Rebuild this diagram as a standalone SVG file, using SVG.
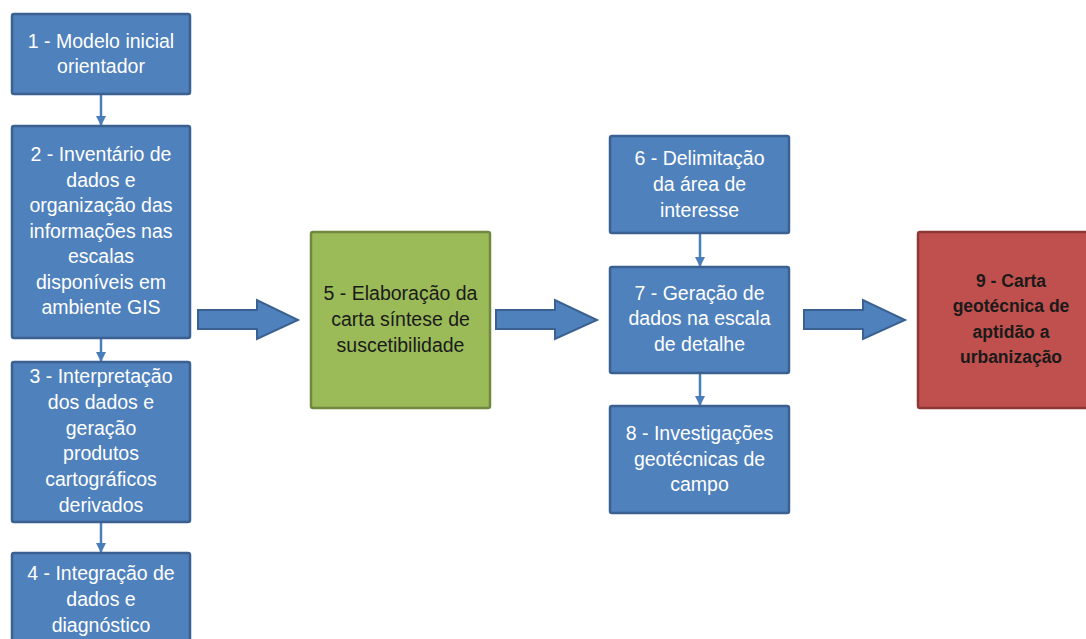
<svg xmlns="http://www.w3.org/2000/svg" width="1086" height="639" viewBox="0 0 1086 639">
<defs>
<style>
.b{fill:#4F81BD;stroke:#3A6191;stroke-width:2.5}
.g{fill:#9BBB59;stroke:#71893F;stroke-width:2.5}
.r{fill:#C0504D;stroke:#8C3836;stroke-width:2.5}
.t{font-family:"Liberation Sans",Arial,sans-serif;font-size:19.5px;text-anchor:middle}
.w{fill:#FFFFFF}
.d{fill:#1A1A1A}
.k{fill:#1A1A1A;font-weight:bold;font-size:17.5px}
.c{stroke:#4A7EBB;stroke-width:2.5;fill:none}
.ba{fill:#4F81BD;stroke:#3A6191;stroke-width:2}
</style>
<marker id="ah" viewBox="0 0 10 10" refX="9" refY="5" markerWidth="4" markerHeight="4" orient="auto" markerUnits="strokeWidth">
<path d="M0,0 L10,5 L0,10 Z" fill="#4A7EBB"/>
</marker>
</defs>
<rect width="1086" height="639" fill="#FFFFFF"/>
<g id="connectors">
<line class="c" x1="101" y1="94" x2="101" y2="125" marker-end="url(#ah)"/>
<line class="c" x1="101" y1="338" x2="101" y2="361" marker-end="url(#ah)"/>
<line class="c" x1="101" y1="522" x2="101" y2="552" marker-end="url(#ah)"/>
<line class="c" x1="700" y1="233" x2="700" y2="266" marker-end="url(#ah)"/>
<line class="c" x1="700" y1="373" x2="700" y2="405" marker-end="url(#ah)"/>
<path class="ba" d="M198,310 L257,310 L257,300 L298,320 L257,339 L257,329 L198,329 Z"/>
<path class="ba" d="M496,310 L555,310 L555,300 L597,320 L555,339 L555,329 L496,329 Z"/>
<path class="ba" d="M804,310 L863,310 L863,300 L905,320 L863,339 L863,329 L804,329 Z"/>
</g>
<g id="n1">
<rect class="b" x="12" y="14" width="178" height="80" rx="2"/>
<text class="t w" x="101" y="48">1 - Modelo inicial</text>
<text class="t w" x="101" y="73">orientador</text>
</g>
<g id="n2">
<rect class="b" x="12" y="126" width="178" height="212" rx="2"/>
<text class="t w" x="101" y="161">2 - Inventário de</text>
<text class="t w" x="101" y="187">dados e</text>
<text class="t w" x="101" y="212">organização das</text>
<text class="t w" x="101" y="238">informações nas</text>
<text class="t w" x="101" y="263">escalas</text>
<text class="t w" x="101" y="289">disponíveis em</text>
<text class="t w" x="101" y="314">ambiente GIS</text>
</g>
<g id="n3">
<rect class="b" x="12" y="362" width="178" height="160" rx="2"/>
<text class="t w" x="101" y="383">3 - Interpretação</text>
<text class="t w" x="101" y="409">dos dados e</text>
<text class="t w" x="101" y="435">geração</text>
<text class="t w" x="101" y="460">produtos</text>
<text class="t w" x="101" y="486">cartográficos</text>
<text class="t w" x="101" y="512">derivados</text>
</g>
<g id="n4">
<rect class="b" x="12" y="553" width="178" height="100" rx="2"/>
<text class="t w" x="101" y="580">4 - Integração de</text>
<text class="t w" x="101" y="606">dados e</text>
<text class="t w" x="101" y="632">diagnóstico</text>
</g>
<g id="n5">
<rect class="g" x="311" y="232" width="179" height="176" rx="2"/>
<text class="t d" x="400.5" y="300">5 - Elaboração da</text>
<text class="t d" x="400.5" y="326">carta síntese de</text>
<text class="t d" x="400.5" y="352">suscetibilidade</text>
</g>
<g id="n6">
<rect class="b" x="610" y="136" width="179" height="97" rx="2"/>
<text class="t w" x="699.5" y="165">6 - Delimitação</text>
<text class="t w" x="699.5" y="191">da área de</text>
<text class="t w" x="699.5" y="217">interesse</text>
</g>
<g id="n7">
<rect class="b" x="610" y="267" width="179" height="106" rx="2"/>
<text class="t w" x="699.5" y="300">7 - Geração de</text>
<text class="t w" x="699.5" y="325">dados na escala</text>
<text class="t w" x="699.5" y="351">de detalhe</text>
</g>
<g id="n8">
<rect class="b" x="610" y="406" width="179" height="107" rx="2"/>
<text class="t w" x="699.5" y="440">8 - Investigações</text>
<text class="t w" x="699.5" y="466">geotécnicas de</text>
<text class="t w" x="699.5" y="491">campo</text>
</g>
<g id="n9">
<rect class="r" x="918" y="232" width="186" height="176" rx="2"/>
<text class="t k" x="1011" y="287">9 - Carta</text>
<text class="t k" x="1011" y="312">geotécnica de</text>
<text class="t k" x="1011" y="338">aptidão a</text>
<text class="t k" x="1011" y="363">urbanização</text>
</g>
</svg>
